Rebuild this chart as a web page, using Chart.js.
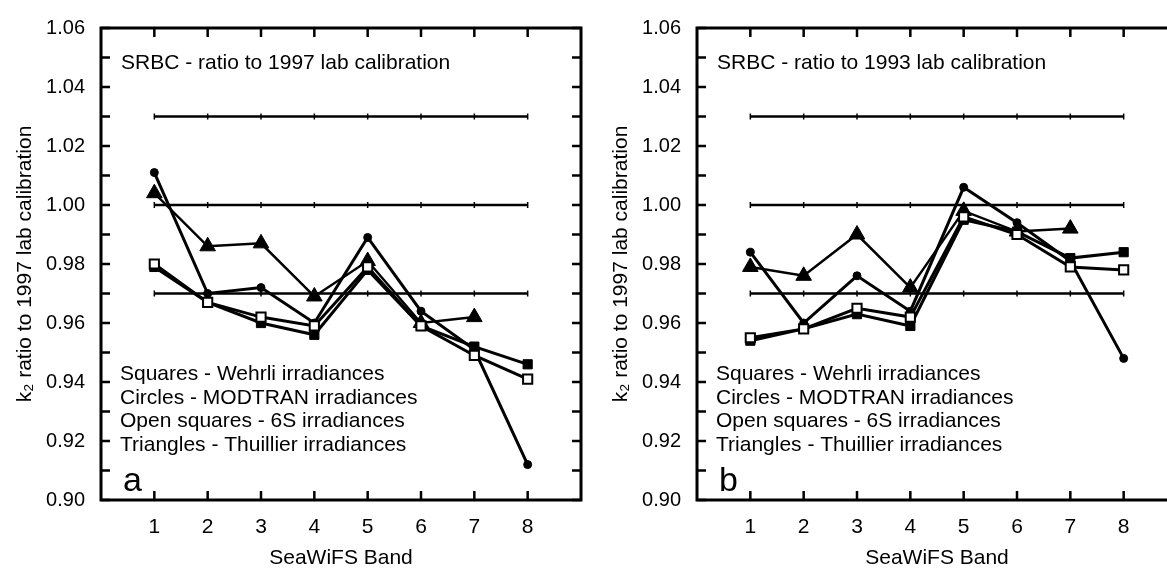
<!DOCTYPE html>
<html>
<head>
<meta charset="utf-8">
<title>SRBC k2 ratio to lab calibration</title>
<script src="https://cdn.jsdelivr.net/npm/chart.js@4.4.1/dist/chart.umd.min.js"></script>
<style>
  html, body { margin: 0; padding: 0; background: #fff; overflow: hidden; width: 1167px; height: 569px; }
  .panel { position: absolute; top: 0; width: 600px; height: 571px; }
  #panelA { left: 0; }
  #panelB { left: 596px; }
</style>
</head>
<body>
<div class="panel" id="panelA"><canvas id="chartA" width="600" height="571"></canvas></div>
<div class="panel" id="panelB"><canvas id="chartB" width="600" height="571"></canvas></div>
<script>
///////////////////////////////////////////////////////////////////////////////
// data
var bands = [1, 2, 3, 4, 5, 6, 7, 8];
var xTickLabels = ['1', '2', '3', '4', '5', '6', '7', '8'];
var yTickLabels = ['0.90', '0.92', '0.94', '0.96', '0.98', '1.00', '1.02', '1.04', '1.06'];
var refLevels = [1.03, 1.00, 0.97];

// panel a : ratio to 1997 lab calibration
var wehrliA    = [0.979, 0.967, 0.960, 0.956, 0.978, 0.959, 0.952, 0.946];
var modtranA   = [1.011, 0.970, 0.972, 0.960, 0.989, 0.964, 0.951, 0.912];
var sixSA      = [0.980, 0.967, 0.962, 0.959, 0.979, 0.959, 0.949, 0.941];
var thuillierA = [1.004, 0.986, 0.987, 0.969, 0.981, 0.960, 0.962, null];

// panel b : ratio to 1993 lab calibration
var wehrliB    = [0.954, 0.958, 0.963, 0.959, 0.995, 0.991, 0.982, 0.984];
var modtranB   = [0.984, 0.960, 0.976, 0.964, 1.006, 0.994, 0.981, 0.948];
var sixSB      = [0.955, 0.958, 0.965, 0.962, 0.996, 0.990, 0.979, 0.978];
var thuillierB = [0.979, 0.976, 0.990, 0.972, 0.998, 0.991, 0.992, null];

var legendLines = [
    'Squares - Wehrli irradiances',
    'Circles - MODTRAN irradiances',
    'Open squares - 6S irradiances',
    'Triangles - Thuillier irradiances'
];
///////////////////////////////////////////////////////////////////////////////

var FONT = "'Liberation Sans', Arial, sans-serif";
Chart.defaults.font.family = FONT;
Chart.defaults.font.size = 21;
Chart.defaults.color = '#000';

function pts(vals) {
    return bands.map(function(b, i) { return {x: b, y: vals[i]}; });
}

function makeDatasets(w, m, s, t) {
    var sets = [
        // open squares on top of the filled ones
        {data: pts(s), pointStyle: 'rect', pointRadius: 6.5, pointBackgroundColor: '#fff', pointBorderWidth: 2},
        {data: pts(t), pointStyle: 'triangle', pointRadius: 9, borderWidth: 2.5},
        {data: pts(m), pointStyle: 'circle', pointRadius: 4},
        {data: pts(w), pointStyle: 'rect', pointRadius: 6.5}
    ];
    // horizontal reference lines with little marks at each band
    refLevels.forEach(function(level) {
        sets.push({
            data: bands.map(function(b) { return {x: b, y: level}; }),
            borderWidth: 2.5,
            pointStyle: 'line',
            rotation: 90,
            pointRadius: 3,
            pointBorderWidth: 1.5
        });
    });
    sets.forEach(function(d) {
        d.borderColor = '#000';
        d.pointBorderColor = '#000';
        if (!d.pointBackgroundColor) d.pointBackgroundColor = '#000';
        if (!d.borderWidth) d.borderWidth = 3;
        if (!d.pointBorderWidth) d.pointBorderWidth = 1;
        d.fill = false;
        d.tension = 0;
    });
    return sets;
}

// frame, inward ticks and the text inside the plot
var framePlugin = {
    id: 'frame',
    afterDraw: function(chart) {
        var ctx = chart.ctx;
        var a = chart.chartArea;
        var xs = chart.scales.x;
        var ys = chart.scales.y;
        var o = chart.options.plugins.frame;
        ctx.save();
        ctx.strokeStyle = '#000';
        ctx.lineWidth = 2.5;
        ctx.beginPath();
        ys.ticks.forEach(function(t) {
            var y = ys.getPixelForValue(t.value);
            ctx.moveTo(a.left, y); ctx.lineTo(a.left + 9, y);
            ctx.moveTo(a.right, y); ctx.lineTo(a.right - 9, y);
        });
        xs.ticks.forEach(function(t) {
            if (t.value < bands[0] || t.value > bands[bands.length - 1]) return;
            var x = xs.getPixelForValue(t.value);
            ctx.moveTo(x, a.bottom); ctx.lineTo(x, a.bottom - 9);
            ctx.moveTo(x, a.top); ctx.lineTo(x, a.top + 9);
        });
        ctx.stroke();
        ctx.lineWidth = 3;
        ctx.strokeRect(a.left, a.top, a.right - a.left, a.bottom - a.top);

        ctx.fillStyle = '#000';
        ctx.textBaseline = 'alphabetic';
        ctx.font = '21px ' + FONT;
        ctx.fillText(o.title, a.left + 20, a.top + 41);
        legendLines.forEach(function(s, i) {
            ctx.fillText(s, a.left + 19, a.top + 352 + i * 23.7);
        });
        ctx.font = '34px ' + FONT;
        ctx.fillText(o.letter, a.left + 22, a.top + 463);
        ctx.restore();
    }
};

function makeChart(id, datasets, title, letter) {
    var ctx = document.getElementById(id).getContext('2d');
    return new Chart(ctx, {
        type: 'line',
        data: {datasets: datasets},
        options: {
            responsive: false,
            animation: false,
            devicePixelRatio: 1,
            layout: {padding: {left: 0, right: 19, top: 20, bottom: 0}},
            plugins: {
                legend: {display: false},
                tooltip: {enabled: false},
                frame: {title: title, letter: letter}
            },
            scales: {
                x: {
                    type: 'linear',
                    min: 0,
                    max: 9,
                    grid: {display: false, drawTicks: false},
                    border: {display: false},
                    ticks: {
                        stepSize: 1,
                        autoSkip: false,
                        maxRotation: 0,
                        padding: 15,
                        callback: function(v) {
                            var s = String(v);
                            return xTickLabels.indexOf(s) >= 0 ? s : '';
                        }
                    },
                    title: {display: true, text: 'SeaWiFS Band', padding: {top: 0, bottom: 0}},
                    afterFit: function(s) { s.height = 71; }
                },
                y: {
                    min: 0.90,
                    max: 1.06,
                    grid: {display: false, drawTicks: false},
                    border: {display: false},
                    ticks: {
                        stepSize: 0.01,
                        autoSkip: false,
                        padding: 16,
                        font: {size: 20},
                        callback: function(v) {
                            var s = v.toFixed(2);
                            return yTickLabels.indexOf(s) >= 0 ? s : '';
                        }
                    },
                    title: {display: true, text: 'k\u2082 ratio to 1997 lab calibration', padding: {top: 13, bottom: 0}},
                    afterFit: function(s) { s.width = 101; }
                }
            }
        },
        plugins: [framePlugin]
    });
}

makeChart('chartA', makeDatasets(wehrliA, modtranA, sixSA, thuillierA), 'SRBC - ratio to 1997 lab calibration', 'a');
makeChart('chartB', makeDatasets(wehrliB, modtranB, sixSB, thuillierB), 'SRBC - ratio to 1993 lab calibration', 'b');
</script>
</body>
</html>
